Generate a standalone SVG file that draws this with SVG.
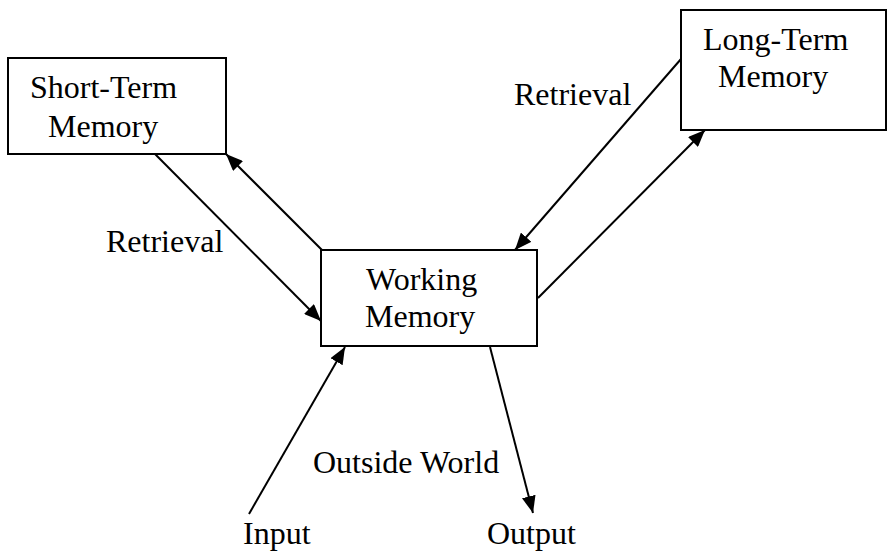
<svg xmlns="http://www.w3.org/2000/svg" width="888" height="552" viewBox="0 0 888 552">
  <style>
    .box { fill: #ffffff; stroke: #000000; stroke-width: 2; }
    .lbl { font-family: "Liberation Serif", "Times New Roman", serif; font-size: 32px; fill: #000000; }
    .edge { stroke: #000000; stroke-width: 2; fill: none; marker-end: url(#head); }
  </style>
  <defs>
    <marker id="head" markerUnits="userSpaceOnUse" markerWidth="18" markerHeight="14" refX="17" refY="7" orient="auto">
      <path d="M0,0 L17,7 L0,14 Z" fill="#000000"/>
    </marker>
  </defs>
  <rect x="0" y="0" width="888" height="552" fill="#ffffff"/>

  <!-- nodes -->
  <g id="short-term">
    <rect class="box" x="8" y="58" width="218" height="96"/>
    <text class="lbl" x="30" y="98">Short-Term</text>
    <text class="lbl" x="48" y="137">Memory</text>
  </g>
  <g id="long-term">
    <rect class="box" x="681" y="10" width="205" height="120"/>
    <text class="lbl" x="703" y="50">Long-Term</text>
    <text class="lbl" x="718" y="87">Memory</text>
  </g>
  <g id="working">
    <rect class="box" x="321" y="250" width="216" height="96"/>
    <text class="lbl" x="366" y="290">Working</text>
    <text class="lbl" x="365" y="327">Memory</text>
  </g>

  <!-- free labels -->
  <g id="labels">
    <text class="lbl" x="106" y="252">Retrieval</text>
    <text class="lbl" x="514" y="105">Retrieval</text>
    <text class="lbl" x="313" y="473">Outside World</text>
    <text class="lbl" x="243" y="544">Input</text>
    <text class="lbl" x="487" y="544">Output</text>
  </g>

  <!-- connectors -->
  <g id="connectors">
    <line class="edge" x1="155" y1="154" x2="321" y2="321"/>
    <line class="edge" x1="322" y1="250" x2="226" y2="154"/>
    <line class="edge" x1="681" y1="59" x2="515" y2="250"/>
    <line class="edge" x1="538" y1="298" x2="705" y2="130"/>
    <line class="edge" x1="249" y1="514" x2="345" y2="347"/>
    <line class="edge" x1="490" y1="347" x2="533" y2="513"/>
  </g>
</svg>
